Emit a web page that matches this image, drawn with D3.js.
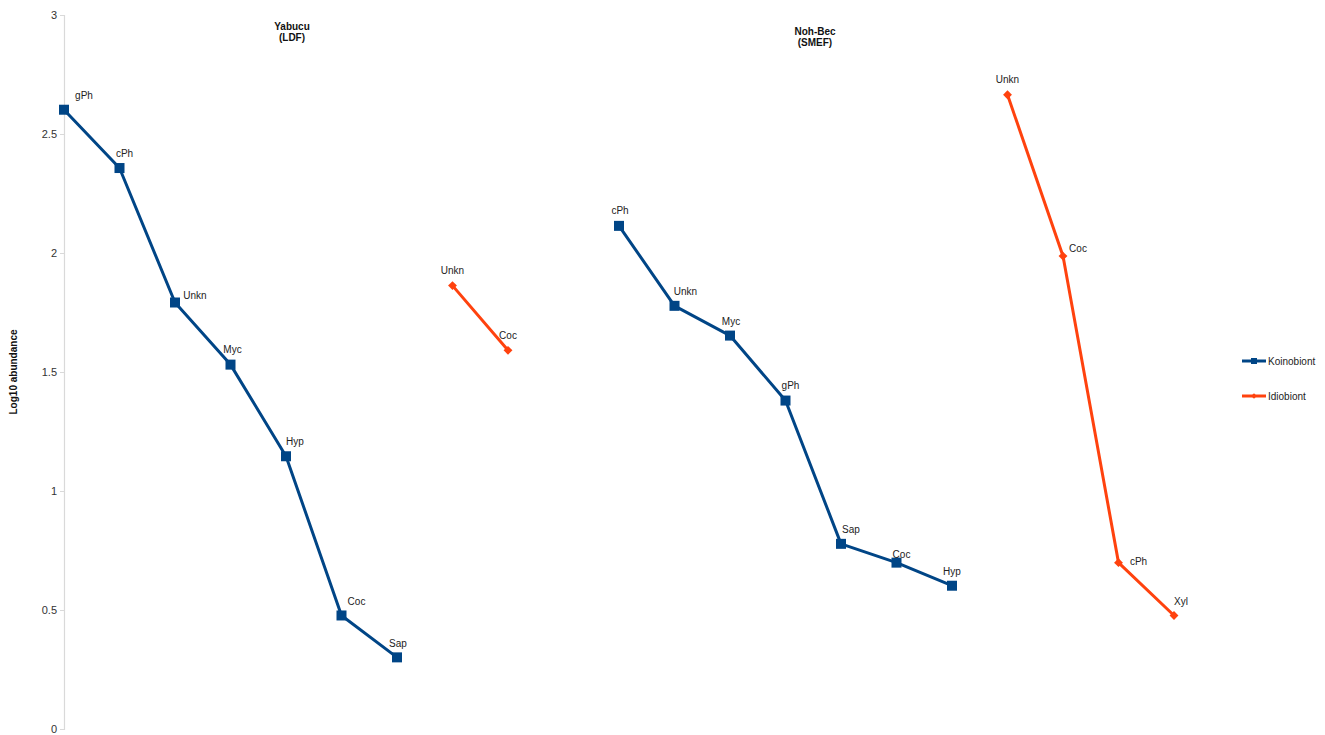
<!DOCTYPE html>
<html><head><meta charset="utf-8">
<script src="https://cdn.jsdelivr.net/npm/d3@7/dist/d3.min.js"></script>
<style>body{margin:0;background:#fff;}svg{display:block;font-family:"Liberation Sans",Arial,sans-serif;}</style>
</head><body>
<svg id="c" width="1325" height="735"></svg>
<script>
// ---- data ----
const slots = d3.range(21);
const koinoLabels = ["gPh","cPh","Unkn","Myc","Hyp","Coc","Sap",null,null,null,"cPh","Unkn","Myc","gPh","Sap","Coc","Hyp",null,null,null,null];
const koinoValues = [2.602,2.357,1.792,1.531,1.146,0.477,0.301,null,null,null,2.114,1.778,1.653,1.380,0.778,0.699,0.602,null,null,null,null];
const idioLabels  = [null,null,null,null,null,null,null,"Unkn","Coc",null,null,null,null,null,null,null,null,"Unkn","Coc","cPh","Xyl"];
const idioValues  = [null,null,null,null,null,null,null,1.863,1.591,null,null,null,null,null,null,null,null,2.665,1.987,0.699,0.477];
const yTicks = [0,0.5,1,1.5,2,2.5,3];
const seriesNames = ["Koinobiont","Idiobiont"];
const siteTitles = [["Yabucu","(LDF)"],["Noh-Bec","(SMEF)"]];
// label offsets (styling only)
const koinoLabelOff = [[20,-14],[5,-15],[20,-7],[2,-15],[9,-15],[15,-14],[1,-14],null,null,null,[1,-15],[11,-14],[1,-14],[5,-15],[10,-14],[5,-8],[0,-14],null,null,null,null];
const idioLabelOff  = [null,null,null,null,null,null,null,[0,-15],[0,-15],null,null,null,null,null,null,null,null,[0,-15],[15,-8],[20,-1],[7,-14]];

const colors = ["#004586","#ff420e"];
const svg = d3.select("#c");
const x = d3.scalePoint().domain(slots).range([64,1174]);
const y = d3.scaleLinear().domain([0,3]).range([729,15]);

// y axis
const yAxis = d3.axisLeft(y).tickValues(yTicks).tickSize(4).tickPadding(3).tickFormat(d3.format("~g"));
const ga = svg.append("g").attr("transform","translate(64,0)").call(yAxis);
ga.select(".domain").attr("stroke","#d9d9d9").attr("stroke-width",1.2);
ga.selectAll(".tick line").attr("stroke","#d9d9d9");
ga.selectAll(".tick text").attr("fill","#333").attr("font-size",11);

svg.append("text").attr("transform","translate(17,372) rotate(-90)")
  .attr("text-anchor","middle").attr("font-size",10).attr("font-weight","bold").attr("fill","#111")
  .text("Log10 abundance");

// site titles
const titlePos = [[292,30],[815,35]];
siteTitles.forEach((t,i)=>{
  const tx = svg.append("text").attr("text-anchor","middle").attr("font-size",10).attr("font-weight","bold").attr("fill","#111");
  t.forEach((s,j)=>tx.append("tspan").attr("x",titlePos[i][0]).attr("y",titlePos[i][1]+j*11).text(s));
});

function drawSeries(vals, labs, offs, color, shape){
  const pts = slots.map(i=>({i, v: vals[i], l: labs[i], o: offs[i]}));
  const line = d3.line().defined(d=>d.v!=null).x(d=>x(d.i)).y(d=>y(d.v));
  svg.append("path").datum(pts).attr("d",line).attr("fill","none").attr("stroke",color).attr("stroke-width",3).attr("stroke-linejoin","round");
  const valid = pts.filter(d=>d.v!=null);
  if(shape==="square"){
    svg.selectAll(null).data(valid).enter().append("rect")
      .attr("x",d=>x(d.i)-5).attr("y",d=>y(d.v)-5).attr("width",10).attr("height",10).attr("fill",color);
  } else {
    svg.selectAll(null).data(valid).enter().append("path")
      .attr("transform",d=>`translate(${x(d.i)},${y(d.v)})`)
      .attr("d",d3.symbol(d3.symbolDiamond2,50)).attr("fill",color);
  }
  svg.selectAll(null).data(valid).enter().append("text")
    .attr("x",d=>x(d.i)+d.o[0]).attr("y",d=>y(d.v)+d.o[1]).attr("dy","0.35em")
    .attr("text-anchor","middle").attr("font-size",10).attr("fill","#222").text(d=>d.l);
}
drawSeries(koinoValues, koinoLabels, koinoLabelOff, colors[0], "square");
drawSeries(idioValues, idioLabels, idioLabelOff, colors[1], "diamond");

// legend
const legY = [361,396];
seriesNames.forEach((n,i)=>{
  const g = svg.append("g").attr("transform",`translate(1242,${legY[i]})`);
  g.append("line").attr("x1",0).attr("x2",24).attr("stroke",colors[i]).attr("stroke-width",3);
  if(i===0) g.append("rect").attr("x",9).attr("y",-3).attr("width",6).attr("height",6).attr("fill",colors[i]);
  else g.append("path").attr("transform","translate(12,0)").attr("d",d3.symbol(d3.symbolDiamond2,20)).attr("fill",colors[i]);
  g.append("text").attr("x",26).attr("dy","0.35em").attr("font-size",10).attr("fill","#222").text(n);
});
</script>
</body></html>
